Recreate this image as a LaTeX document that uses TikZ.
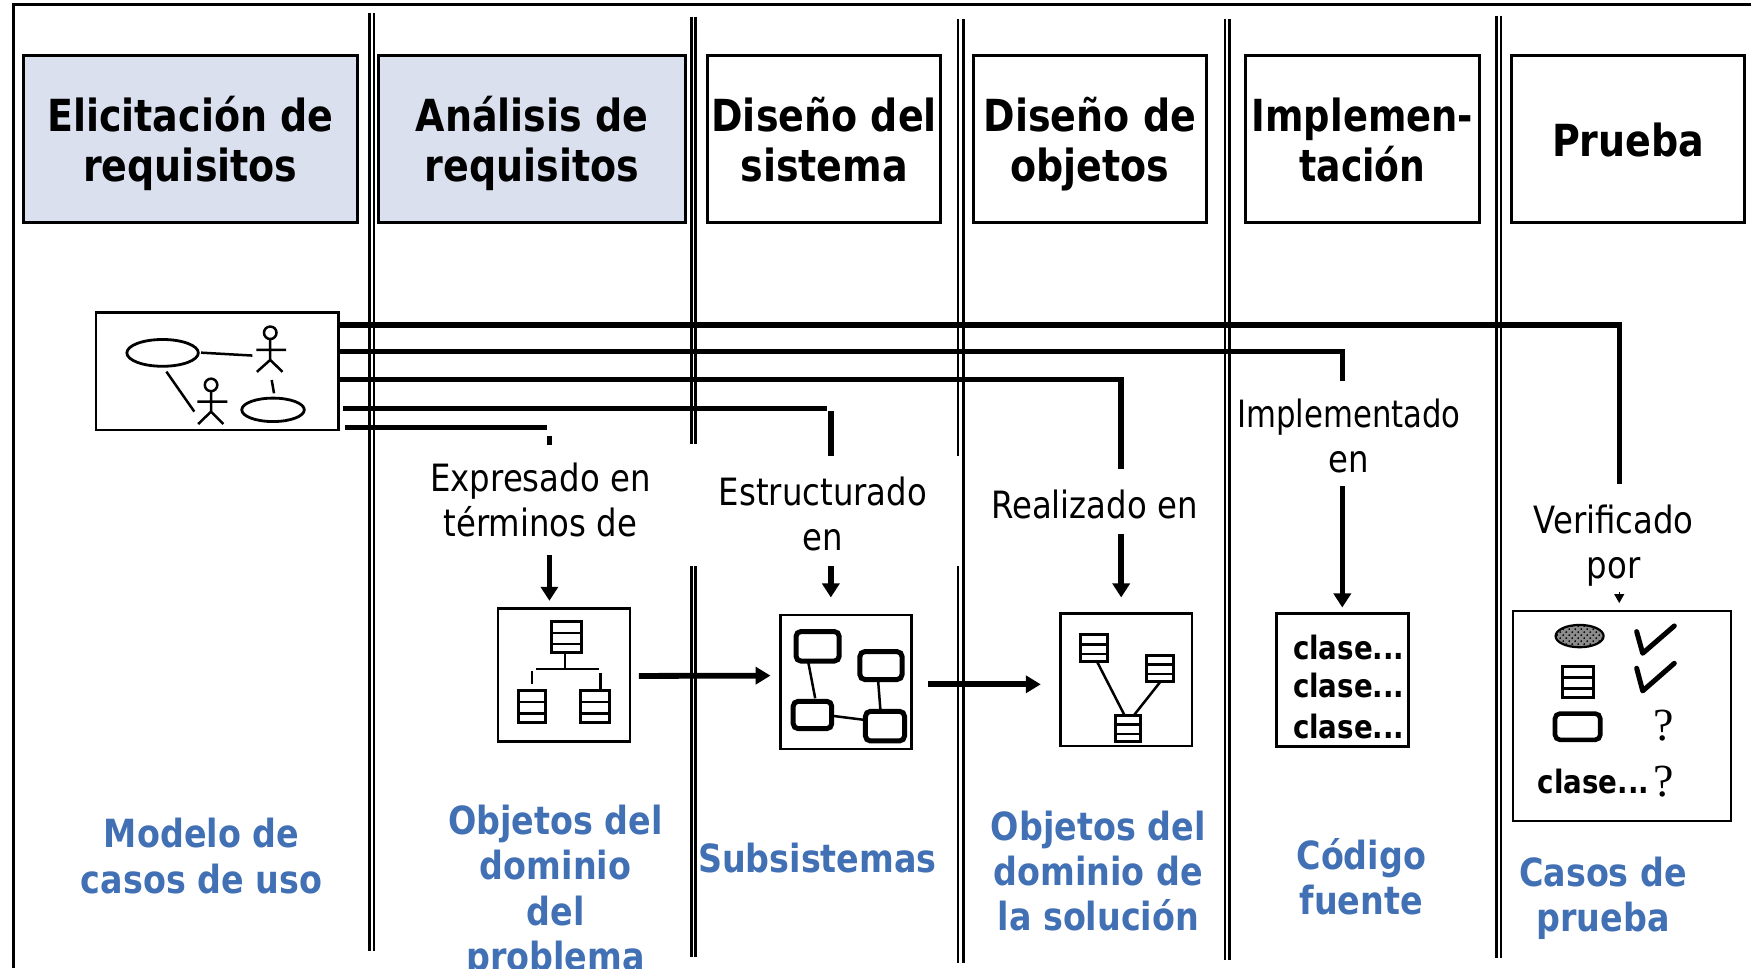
\documentclass[tikz,border=0pt]{standalone}
\usepackage{fontspec}
\usetikzlibrary{arrows.meta,patterns}
\setmainfont{DejaVu Sans}
\newfontfamily\lblfont[FakeStretch=0.86]{DejaVu Sans}
\newfontfamily\hdrfont[FakeStretch=0.86]{DejaVu Sans Bold}
\newfontfamily\qfont{Liberation Serif}
\definecolor{phasefill}{HTML}{DAE0EE}
\definecolor{modelblue}{HTML}{4270B4}
\newcommand{\hT}{\rule{0pt}{24pt}}
\newcommand{\hD}{\rule[-6.6pt]{0pt}{6.6pt}}
\tikzset{
  x=0.5583pt,y=-0.5583pt,
  phase/.style={draw=black,line width=1.4pt,minimum height=83.2pt,inner sep=0pt,align=center,font=\hdrfont\fontsize{22.1}{25}\selectfont},
  sepline/.style={line width=1.25pt},
  wire/.style={line width=2.7pt},
  wirearrow/.style={line width=2.7pt,-{Triangle[length=7pt,width=8.5pt]}},
  bigarrow/.style={line width=2.9pt,-{Triangle[length=7.5pt,width=8.5pt]}},
  panel/.style={draw=black,line width=1.3pt,inner sep=0pt},
  lbl/.style={fill=white,align=center,inner sep=0pt,font=\lblfont\fontsize{18.8}{22.5}\selectfont},
  artefact/.style={text=modelblue,align=center,inner sep=0pt,font=\hdrfont\fontsize{19.4}{22.6}\selectfont},
  thin line/.style={line width=1.25pt},
  cls/.style={line width=1.25pt},
  rbox/.style={draw=black,line width=2.5pt,rounded corners=2.5pt},
  clase/.style={inner sep=0pt,anchor=base west,font=\hdrfont\fontsize{16.1}{18}\selectfont},
  query/.style={inner sep=0pt,font=\qfont\fontsize{23}{24}\selectfont},
}
\newcommand{\classicon}[4]{% x1,y1,x2,y2
  \draw[cls,line width=1.5pt] (#1,#2) rectangle (#3,#4);
  \draw[cls] (#1,{#2+(#4-#2)*0.36}) -- (#3,{#2+(#4-#2)*0.36});
  \draw[cls] (#1,{#2+(#4-#2)*0.72}) -- (#3,{#2+(#4-#2)*0.72});
}
\begin{document}
\begin{tikzpicture}
\useasboundingbox (0,0) rectangle (1568,867);
\draw[line width=1.3pt] (12,867) -- (12,4) -- (1568,4);
% separators
\foreach \xx/\ya/\yb in {331/12/852,335/12/852,1097/17/860,1101/17/860,1340/14/858,1344/14/858,863/17/862}
  \draw[sepline] (\xx,\ya) -- (\xx,\yb);
\foreach \xx/\ya/\yb/\yc/\yd in {619/15/398/507/857,623/15/398/507/857,858/17/408/507/862}{
  \draw[sepline] (\xx,\ya) -- (\xx,\yb);
  \draw[sepline] (\xx,\yc) -- (\xx,\yd);
}
% phase boxes
\node[phase,fill=phasefill,minimum width=166.9pt] (elic) at (170.5,124.5) {\hT Elicitación de\\requisitos\hD};
\node[phase,fill=phasefill,minimum width=153.5pt] (anal) at (476.5,124.5) {\hT Análisis de\\requisitos\hD};
\node[phase,minimum width=116.7pt] (dsis) at (738,124.5) {\hT Diseño del\\sistema\hD};
\node[phase,minimum width=116.7pt] (dobj) at (976,124.5) {\hT Diseño de\\objetos\hD};
\node[phase,minimum width=116.7pt] (impl) at (1220,124.5) {\hT \scalebox{0.97}[1]{Implemen-}\\\scalebox{0.95}[1]{tación}\hD};
\node[phase,minimum width=116.7pt] (prue) at (1458,124.5) {\rule{0pt}{18pt}Prueba};
% panels
\node[panel,fill=white,minimum width=121.2pt,minimum height=58.6pt] (uc) at (194.5,332.5) {};
\node[panel,minimum width=65.9pt,minimum height=66.4pt] (pa) at (505,604.5) {};
\node[panel,minimum width=65.6pt,minimum height=67pt] (pb) at (757.5,610.7) {};
\node[panel,minimum width=65.6pt,minimum height=66.3pt] (pc) at (1008.5,608.6) {};
\node[panel,minimum width=65.9pt,minimum height=66.6pt] (pd) at (1202,608.9) {};
\node[panel,minimum width=108.9pt,minimum height=105pt] (pe) at (1452.5,641) {};
% use case sketch
\draw[thin line,line width=1.4pt] (145.6,316) ellipse (32 and 12);
\draw[thin line,line width=1.4pt] (244.5,367) ellipse (28 and 10.5);
\draw[thin line] (180,315.8) -- (226,318.4);
\draw[thin line] (243.3,340.3) -- (245.4,352.2);
\draw[thin line] (149,332.8) -- (174,368.6);
\draw[thin line] (242,298) circle (5.6);
\draw[thin line] (242,303.6) -- (242,322.3) (229.6,313.4) -- (256.3,313.4) (230,333) -- (242,322.3) -- (253,333);
\draw[thin line] (189,344.7) circle (5.6);
\draw[thin line] (189,350.3) -- (189,368.6) (176.8,359.7) -- (203.6,359.7) (177.5,379.7) -- (189,368.6) -- (200,379.7);
% connectors
\coordinate (s1) at (303,291); \coordinate (t1) at (1450,540);
\coordinate (s2) at (303,315); \coordinate (t2) at (1202,544);
\coordinate (s3) at (303,340); \coordinate (t3) at (1004,535);
\coordinate (s4) at (307,366); \coordinate (c4) at (741,366); \coordinate (d4) at (744,368); \coordinate (t4) at (744,535);
\coordinate (s5) at (309,383); \coordinate (c5) at (490,383); \coordinate (d5) at (492,390); \coordinate (t5) at (492,538);
\draw[wire] (s1) -| (1450,433);
\draw[wire] (s2) -| (1202,341);
\draw[wire] (s3) -| (1004,420);
\draw[wire] (s4) -- (c4);
\draw[wire] (s5) -- (c5);
\draw[wirearrow] (1202,400) -- (t2);
\draw[wirearrow] (1004,440) -- (t3);
\draw[wirearrow] (d4) -- (t4);
\draw[wirearrow] (d5) -- (t5);
\draw[line width=0.5pt,-{Triangle[length=4.5pt,width=5pt]}] (1450,500) -- (t1);
\draw[wire] (1450,433) -- (1450,470);
\draw[bigarrow] (pa.east |- 0,605.3) ++(7,0) -- (690,605);
\draw[bigarrow] (pb.east |- 0,612.8) ++(14,0) -- (932,612.8);
% labels
\node[lbl,minimum height=55.2pt,minimum width=113pt] (l1) at (484,447.5) {\rule{0pt}{15pt}Expresado en\\términos de};
\node[lbl,minimum height=55.2pt,minimum width=106pt] (l2) at (737,457.5) {\rule{0pt}{17.5pt}Estructurado\\en};
\node[lbl,minimum height=32.4pt,minimum width=110pt] (l3) at (980,449) {\rule{0pt}{17.5pt}Realizado en};
\node[lbl,minimum height=52.5pt,minimum width=114pt] (l4) at (1208,388) {\rule{0pt}{16.5pt}\scalebox{0.95}[1]{Implementado}\\en};
\node[lbl,minimum height=54pt,minimum width=86pt] (l5) at (1445,482) {\rule{0pt}{22pt}Verificado\\por};
% panel A
\classicon{494}{556.7}{521}{584.4}
\draw[thin line] (506,584.4) -- (506,599) (480,599) -- (536.5,599) (537.8,603) -- (537.8,618) (476.5,601) -- (476.5,612.5);
\classicon{464.7}{618.4}{488.3}{647}
\classicon{519.6}{618.4}{546}{647}
% panel B
\draw[rbox] (712.8,565.5) rectangle (751.5,592);
\draw[rbox] (770,583.5) rectangle (807.8,608.5);
\draw[rbox] (710.3,628) rectangle (744.8,652.5);
\draw[rbox] (775,637) rectangle (810,663.5);
\draw[thin line] (723.7,592.5) -- (730,625.3) (786.3,609) -- (788.4,635.8) (746,641.1) -- (774.5,644.7);
% panel C
\classicon{967.6}{568.6}{991.3}{592.5}
\classicon{1026.8}{586.8}{1050.5}{610}
\classicon{998.5}{640.5}{1021.7}{664}
\draw[thin line] (982.4,592.5) -- (1007,640.5) (1039.5,610) -- (1015.4,640.5);
% panel D
\node[clase] (ca) at (1157.5,591) {clase...};
\node[clase] (cb) at (1157.5,624.5) {clase...};
\node[clase] (cc) at (1157.5,661) {clase...};
% panel E
\fill[black!45] (1414.5,569.6) ellipse (21.5 and 10);
\draw[line width=1.1pt,pattern=crosshatch dots] (1414.5,569.6) ellipse (21.5 and 10);
\draw[line width=2.5pt,line cap=round,line join=round] (1465.6,565.6) -- (1471,585) -- (1499.3,560.5);
\draw[line width=2.5pt,line cap=round,line join=round] (1465.6,598.4) -- (1471,618.7) -- (1499.3,594);
\classicon{1399}{596.4}{1426.8}{624.4}
\draw[rbox,line width=2.3pt] (1392.5,639) rectangle (1433,662.5);
\node[query] (qa) at (1489.6,650) {?};
\node[clase] (cd) at (1376.8,711) {clase...};
\node[query] (qb) at (1490,700) {?};
% artefact names
\node[artefact] (m1) at (180.5,766.5) {Modelo de\\casos de uso};
\node[artefact] (m2) at (497.5,798.5) {Objetos del\\dominio\\del\\problema};
\node[artefact] (m3) at (732,768) {Subsistemas};
\node[artefact] (m4) at (983.5,780) {Objetos del\\dominio de\\la solución};
\node[artefact] (m5) at (1219,785) {Código\\fuente};
\node[artefact] (m6) at (1435.5,804.5) {Casos de\\prueba};
\end{tikzpicture}
\end{document}
